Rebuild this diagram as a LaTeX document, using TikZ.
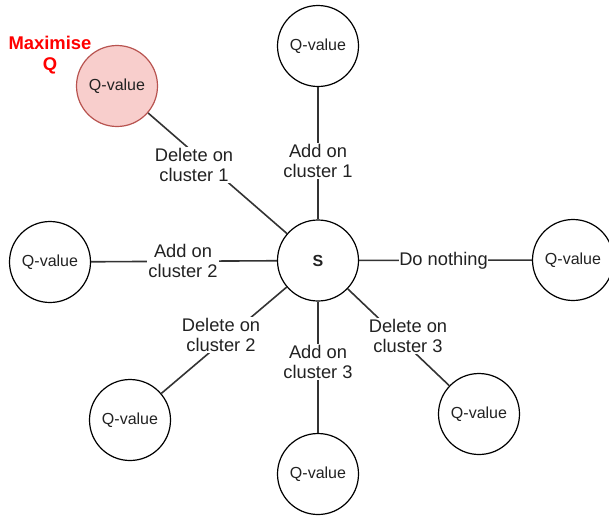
\documentclass[tikz,border=0pt]{standalone}
\usepackage{fontspec}
\setmainfont{Liberation Sans}
\definecolor{redfill}{HTML}{F8CECC}
\definecolor{redline}{HTML}{B85450}
\definecolor{ink}{HTML}{222222}
\definecolor{wire}{HTML}{333333}
\begin{document}
\begin{tikzpicture}[x=1pt,y=-1pt,
  qnode/.style={circle,draw=black,line width=1.2pt,minimum size=81pt,inner sep=0pt,fill=white,text=ink,font=\fontsize{16}{19}\selectfont},
  conn/.style={draw=wire,line width=1.6pt},
  lbl/.style={fill=white,inner sep=1pt,align=center,text=ink,font=\fontsize{18.3}{20.5}\selectfont}]
\useasboundingbox (0,0) rectangle (609,515);

\node[qnode,font=\fontsize{16}{19}\selectfont\bfseries] (s) at (318,260.5) {S};
\node[qnode] (qtop) at (318,46) {Q-value};
\node[qnode,fill=redfill,draw=redline] (qred) at (117,86) {Q-value};
\node[qnode] (qleft) at (50,262) {Q-value};
\node[qnode] (qright) at (573,260) {Q-value};
\node[qnode] (qbl) at (130,420) {Q-value};
\node[qnode] (qbot) at (318,474) {Q-value};
\node[qnode] (qbr) at (479,414) {Q-value};

\draw[conn] (s) -- (qtop);
\draw[conn] (s) -- (qred);
\draw[conn] (s) -- (qleft);
\draw[conn] (s) -- (qright);
\draw[conn] (s) -- (qbl);
\draw[conn] (s) -- (qbot);
\draw[conn] (s) -- (qbr);

\node[lbl] (l1) at (318,161) {Add on\\cluster 1};
\node[lbl] (l2) at (194,165) {Delete on\\cluster 1};
\node[lbl] (l3) at (183,261) {Add on\\cluster 2};
\node[lbl,inner sep=0.5pt] (l4) at (443.5,260.5) {Do nothing};
\node[lbl] (l5) at (221,335) {Delete on\\cluster 2};
\node[lbl] (l6) at (318,362) {Add on\\cluster 3};
\node[lbl] (l7) at (408,336) {Delete on\\cluster 3};

\node[align=center,text=red,inner sep=0pt,font=\fontsize{18.4}{21}\selectfont\bfseries] (maxq) at (50,55) {Maximise\\Q};
\end{tikzpicture}
\end{document}
